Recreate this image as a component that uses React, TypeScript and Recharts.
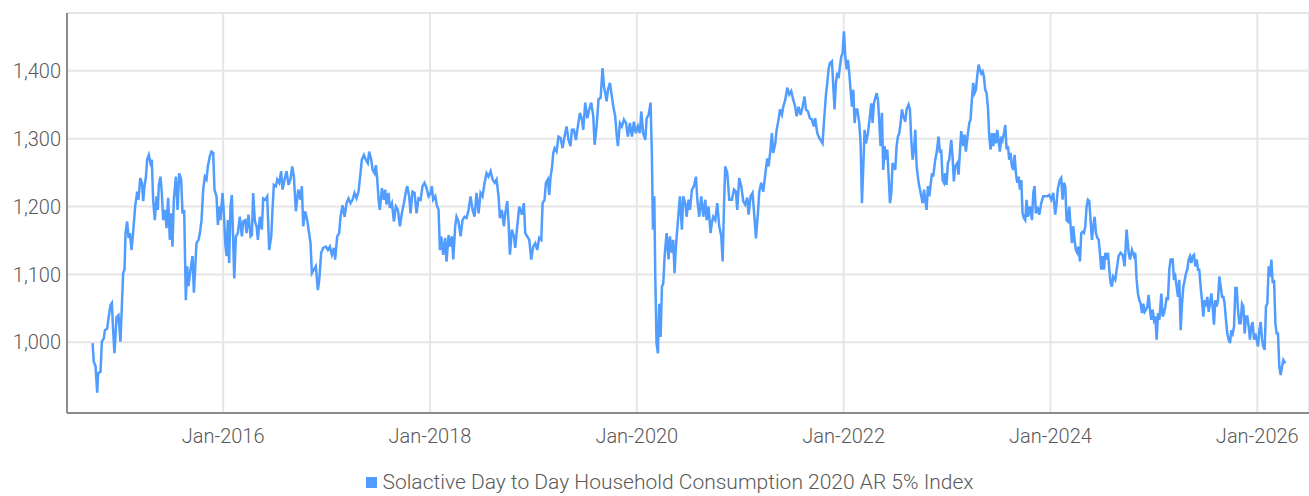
import React from "react";
import {
  LineChart,
  Line,
  XAxis,
  YAxis,
  CartesianGrid,
  Legend
} from "recharts";

const dates2014 = [2014.737, 2014.749, 2014.766, 2014.782, 2014.791, 2014.814, 2014.827, 2014.846, 2014.856, 2014.878, 2014.891, 2014.911, 2014.924, 2014.936, 2014.949, 2014.969, 2014.988, 2015.007, 2015.02, 2015.033, 2015.046, 2015.056, 2015.072, 2015.085, 2015.098, 2015.114, 2015.13, 2015.149, 2015.169, 2015.181, 2015.198, 2015.214, 2015.227, 2015.239, 2015.252, 2015.265, 2015.281, 2015.297, 2015.31, 2015.323, 2015.339, 2015.356, 2015.368, 2015.378, 2015.394, 2015.407, 2015.42, 2015.439, 2015.452, 2015.468, 2015.484, 2015.497, 2015.51, 2015.523, 2015.543, 2015.559, 2015.575, 2015.594, 2015.607, 2015.623, 2015.639, 2015.652, 2015.665, 2015.684, 2015.704, 2015.717, 2015.729, 2015.742, 2015.762, 2015.775, 2015.791, 2015.807, 2015.823, 2015.839, 2015.852, 2015.871, 2015.887, 2015.904, 2015.916, 2015.936, 2015.949, 2015.962, 2015.974, 2015.994];
const index2014 = [999, 971, 965, 926, 954, 957, 1001, 1006, 1018, 1020, 1035, 1055, 1058, 1018, 984, 1037, 1040, 1001, 1052, 1102, 1107, 1161, 1178, 1154, 1161, 1136, 1163, 1200, 1222, 1210, 1242, 1235, 1208, 1230, 1242, 1269, 1276, 1264, 1269, 1210, 1180, 1215, 1195, 1232, 1244, 1220, 1180, 1195, 1168, 1213, 1151, 1190, 1141, 1210, 1244, 1195, 1249, 1240, 1190, 1195, 1062, 1112, 1083, 1107, 1127, 1073, 1107, 1146, 1151, 1161, 1180, 1225, 1244, 1240, 1259, 1274, 1281, 1279, 1225, 1215, 1173, 1200, 1180, 1220];

const dates2016 = [2016.007, 2016.02, 2016.033, 2016.045, 2016.058, 2016.071, 2016.084, 2016.097, 2016.107, 2016.123, 2016.142, 2016.161, 2016.181, 2016.194, 2016.213, 2016.226, 2016.245, 2016.265, 2016.278, 2016.29, 2016.307, 2016.323, 2016.336, 2016.355, 2016.374, 2016.387, 2016.407, 2016.426, 2016.445, 2016.465, 2016.477, 2016.49, 2016.51, 2016.523, 2016.542, 2016.561, 2016.574, 2016.594, 2016.613, 2016.632, 2016.651, 2016.668, 2016.684, 2016.703, 2016.726, 2016.748, 2016.761, 2016.774, 2016.793, 2016.813, 2016.826, 2016.845, 2016.858, 2016.877, 2016.896, 2016.916, 2016.929, 2016.948, 2016.967, 2016.993];
const index2016 = [1190, 1146, 1127, 1180, 1117, 1200, 1217, 1151, 1094, 1156, 1161, 1185, 1156, 1178, 1180, 1161, 1188, 1156, 1158, 1220, 1178, 1171, 1151, 1185, 1166, 1212, 1210, 1215, 1136, 1156, 1195, 1232, 1230, 1240, 1235, 1252, 1225, 1240, 1252, 1232, 1240, 1259, 1244, 1193, 1225, 1210, 1230, 1171, 1193, 1180, 1166, 1146, 1102, 1107, 1112, 1077, 1092, 1132, 1139, 1141];

const dates2017 = [2017.013, 2017.032, 2017.051, 2017.071, 2017.083, 2017.103, 2017.122, 2017.135, 2017.154, 2017.174, 2017.193, 2017.212, 2017.232, 2017.251, 2017.27, 2017.29, 2017.309, 2017.328, 2017.341, 2017.361, 2017.38, 2017.399, 2017.412, 2017.432, 2017.445, 2017.464, 2017.477, 2017.49, 2017.503, 2017.515, 2017.535, 2017.554, 2017.567, 2017.58, 2017.599, 2017.612, 2017.632, 2017.651, 2017.67, 2017.69, 2017.709, 2017.728, 2017.748, 2017.767, 2017.78, 2017.799, 2017.812, 2017.831, 2017.851, 2017.87, 2017.889, 2017.909, 2017.928, 2017.947, 2017.967, 2017.986];
const index2017 = [1136, 1141, 1129, 1139, 1122, 1156, 1161, 1185, 1202, 1185, 1205, 1212, 1205, 1210, 1220, 1212, 1222, 1249, 1269, 1276, 1269, 1264, 1281, 1269, 1254, 1249, 1261, 1240, 1210, 1195, 1227, 1210, 1225, 1203, 1220, 1198, 1205, 1178, 1200, 1195, 1171, 1190, 1205, 1222, 1230, 1215, 1190, 1222, 1220, 1190, 1212, 1210, 1230, 1235, 1227, 1215];

const dates2018 = [2018.006, 2018.018, 2018.031, 2018.051, 2018.064, 2018.083, 2018.096, 2018.109, 2018.128, 2018.147, 2018.16, 2018.18, 2018.192, 2018.212, 2018.225, 2018.244, 2018.257, 2018.276, 2018.296, 2018.315, 2018.334, 2018.354, 2018.373, 2018.392, 2018.412, 2018.431, 2018.45, 2018.47, 2018.489, 2018.508, 2018.528, 2018.547, 2018.566, 2018.586, 2018.605, 2018.625, 2018.644, 2018.663, 2018.676, 2018.695, 2018.715, 2018.728, 2018.747, 2018.76, 2018.773, 2018.792, 2018.812, 2018.824, 2018.844, 2018.863, 2018.889, 2018.908, 2018.921, 2018.94, 2018.96, 2018.979, 2018.998];
const index2018 = [1220, 1230, 1210, 1215, 1203, 1195, 1136, 1156, 1129, 1154, 1119, 1158, 1141, 1156, 1122, 1171, 1185, 1178, 1156, 1180, 1185, 1183, 1195, 1215, 1195, 1185, 1220, 1190, 1220, 1215, 1235, 1249, 1244, 1252, 1240, 1235, 1240, 1215, 1183, 1195, 1171, 1190, 1208, 1176, 1129, 1166, 1156, 1139, 1171, 1200, 1188, 1205, 1161, 1156, 1151, 1122, 1141];

const dates2019 = [2019.018, 2019.037, 2019.056, 2019.076, 2019.089, 2019.108, 2019.121, 2019.14, 2019.153, 2019.166, 2019.179, 2019.192, 2019.205, 2019.224, 2019.243, 2019.263, 2019.282, 2019.301, 2019.321, 2019.34, 2019.359, 2019.372, 2019.392, 2019.411, 2019.43, 2019.45, 2019.469, 2019.482, 2019.501, 2019.521, 2019.54, 2019.559, 2019.579, 2019.592, 2019.611, 2019.63, 2019.65, 2019.669, 2019.682, 2019.695, 2019.708, 2019.721, 2019.74, 2019.759, 2019.772, 2019.791, 2019.804, 2019.817, 2019.837, 2019.856, 2019.875, 2019.895, 2019.914, 2019.933, 2019.953, 2019.972, 2019.991];
const index2019 = [1146, 1136, 1154, 1151, 1205, 1210, 1235, 1240, 1217, 1244, 1256, 1279, 1286, 1281, 1303, 1301, 1286, 1303, 1318, 1298, 1289, 1313, 1313, 1298, 1318, 1338, 1328, 1313, 1353, 1330, 1343, 1353, 1333, 1291, 1318, 1358, 1360, 1404, 1377, 1367, 1355, 1372, 1382, 1362, 1348, 1333, 1308, 1289, 1323, 1318, 1328, 1323, 1303, 1323, 1303, 1325, 1308];

const dates2020 = [2020.011, 2020.03, 2020.043, 2020.062, 2020.082, 2020.095, 2020.114, 2020.133, 2020.146, 2020.156, 2020.169, 2020.178, 2020.191, 2020.204, 2020.217, 2020.23, 2020.243, 2020.256, 2020.269, 2020.288, 2020.307, 2020.32, 2020.34, 2020.352, 2020.365, 2020.378, 2020.398, 2020.417, 2020.436, 2020.449, 2020.469, 2020.481, 2020.501, 2020.514, 2020.533, 2020.552, 2020.572, 2020.585, 2020.604, 2020.623, 2020.643, 2020.662, 2020.675, 2020.694, 2020.713, 2020.726, 2020.739, 2020.759, 2020.778, 2020.797, 2020.817, 2020.83, 2020.843, 2020.855, 2020.875, 2020.894, 2020.92, 2020.939, 2020.958, 2020.971, 2020.99];
const index2020 = [1318, 1308, 1340, 1308, 1298, 1330, 1335, 1353, 1274, 1166, 1215, 1102, 998, 984, 1057, 1008, 1082, 1087, 1127, 1161, 1122, 1156, 1132, 1151, 1102, 1141, 1180, 1215, 1166, 1215, 1205, 1185, 1210, 1195, 1225, 1230, 1244, 1210, 1185, 1215, 1185, 1210, 1180, 1200, 1161, 1176, 1185, 1180, 1205, 1171, 1156, 1119, 1200, 1259, 1249, 1210, 1210, 1225, 1222, 1195, 1242];

const dates2021 = [2021.01, 2021.029, 2021.048, 2021.068, 2021.081, 2021.1, 2021.119, 2021.132, 2021.152, 2021.171, 2021.184, 2021.203, 2021.223, 2021.242, 2021.261, 2021.274, 2021.293, 2021.306, 2021.319, 2021.339, 2021.352, 2021.371, 2021.384, 2021.403, 2021.416, 2021.435, 2021.455, 2021.474, 2021.493, 2021.513, 2021.532, 2021.545, 2021.564, 2021.584, 2021.603, 2021.622, 2021.635, 2021.655, 2021.674, 2021.693, 2021.713, 2021.725, 2021.745, 2021.764, 2021.784, 2021.796, 2021.809, 2021.829, 2021.842, 2021.854, 2021.867, 2021.887, 2021.9, 2021.912, 2021.925, 2021.938, 2021.951, 2021.964, 2021.977, 2021.99];
const index2021 = [1230, 1208, 1203, 1213, 1188, 1215, 1220, 1195, 1153, 1190, 1222, 1235, 1222, 1247, 1271, 1259, 1284, 1308, 1279, 1293, 1313, 1328, 1343, 1335, 1347, 1357, 1375, 1365, 1370, 1357, 1347, 1333, 1347, 1335, 1347, 1362, 1343, 1340, 1330, 1328, 1318, 1330, 1308, 1301, 1296, 1293, 1323, 1365, 1382, 1402, 1411, 1414, 1377, 1343, 1382, 1397, 1389, 1406, 1421, 1426];

const dates2022 = [2022.003, 2022.016, 2022.029, 2022.041, 2022.054, 2022.067, 2022.08, 2022.093, 2022.106, 2022.119, 2022.132, 2022.151, 2022.164, 2022.177, 2022.19, 2022.203, 2022.216, 2022.235, 2022.254, 2022.267, 2022.28, 2022.293, 2022.306, 2022.319, 2022.332, 2022.345, 2022.357, 2022.37, 2022.383, 2022.396, 2022.409, 2022.422, 2022.435, 2022.448, 2022.461, 2022.473, 2022.486, 2022.499, 2022.512, 2022.525, 2022.538, 2022.551, 2022.564, 2022.577, 2022.596, 2022.609, 2022.628, 2022.641, 2022.654, 2022.667, 2022.68, 2022.693, 2022.706, 2022.725, 2022.738, 2022.751, 2022.764, 2022.777, 2022.789, 2022.802, 2022.815, 2022.828, 2022.854, 2022.866, 2022.886, 2022.899, 2022.918, 2022.931, 2022.944, 2022.957, 2022.97, 2022.982, 2022.995];
const index2022 = [1458, 1421, 1402, 1416, 1397, 1372, 1347, 1372, 1323, 1343, 1343, 1323, 1293, 1205, 1259, 1313, 1293, 1308, 1333, 1352, 1323, 1352, 1360, 1367, 1357, 1323, 1289, 1338, 1254, 1289, 1269, 1284, 1245, 1205, 1220, 1264, 1259, 1254, 1289, 1303, 1308, 1323, 1343, 1333, 1325, 1343, 1350, 1343, 1298, 1269, 1284, 1313, 1259, 1235, 1225, 1215, 1205, 1225, 1210, 1195, 1230, 1215, 1249, 1244, 1269, 1279, 1303, 1279, 1284, 1239, 1235, 1249, 1232];

const dates2023 = [2023.008, 2023.021, 2023.041, 2023.053, 2023.066, 2023.079, 2023.099, 2023.111, 2023.124, 2023.137, 2023.157, 2023.169, 2023.182, 2023.202, 2023.215, 2023.227, 2023.24, 2023.253, 2023.266, 2023.279, 2023.292, 2023.305, 2023.318, 2023.331, 2023.344, 2023.356, 2023.369, 2023.382, 2023.395, 2023.408, 2023.421, 2023.434, 2023.447, 2023.46, 2023.473, 2023.485, 2023.498, 2023.511, 2023.524, 2023.537, 2023.55, 2023.563, 2023.576, 2023.589, 2023.601, 2023.614, 2023.627, 2023.64, 2023.653, 2023.666, 2023.679, 2023.692, 2023.705, 2023.718, 2023.73, 2023.743, 2023.756, 2023.769, 2023.782, 2023.801, 2023.821, 2023.834, 2023.846, 2023.859, 2023.872, 2023.892, 2023.911, 2023.93, 2023.95, 2023.969, 2023.988];
const index2023 = [1264, 1269, 1298, 1274, 1237, 1259, 1264, 1247, 1279, 1311, 1289, 1306, 1281, 1308, 1323, 1328, 1357, 1382, 1367, 1372, 1392, 1409, 1401, 1396, 1399, 1392, 1372, 1367, 1347, 1303, 1284, 1308, 1289, 1308, 1293, 1313, 1298, 1281, 1303, 1298, 1308, 1320, 1284, 1289, 1269, 1279, 1259, 1254, 1276, 1249, 1235, 1244, 1225, 1239, 1190, 1183, 1180, 1210, 1185, 1200, 1180, 1220, 1230, 1190, 1200, 1188, 1205, 1215, 1215, 1215, 1217];

const dates2024 = [2024.008, 2024.027, 2024.046, 2024.059, 2024.072, 2024.091, 2024.104, 2024.117, 2024.13, 2024.143, 2024.156, 2024.169, 2024.182, 2024.195, 2024.208, 2024.22, 2024.233, 2024.246, 2024.259, 2024.272, 2024.285, 2024.298, 2024.311, 2024.324, 2024.337, 2024.349, 2024.362, 2024.375, 2024.388, 2024.401, 2024.414, 2024.427, 2024.44, 2024.453, 2024.466, 2024.478, 2024.491, 2024.504, 2024.517, 2024.53, 2024.543, 2024.556, 2024.569, 2024.582, 2024.594, 2024.607, 2024.627, 2024.64, 2024.659, 2024.678, 2024.698, 2024.717, 2024.736, 2024.756, 2024.769, 2024.788, 2024.808, 2024.82, 2024.833, 2024.846, 2024.859, 2024.872, 2024.885, 2024.898, 2024.911, 2024.924, 2024.937, 2024.949, 2024.962, 2024.975, 2024.988];
const index2024 = [1210, 1220, 1188, 1205, 1227, 1239, 1242, 1210, 1235, 1230, 1180, 1178, 1200, 1171, 1146, 1171, 1151, 1136, 1132, 1141, 1119, 1161, 1163, 1161, 1171, 1200, 1210, 1208, 1180, 1151, 1171, 1185, 1161, 1154, 1151, 1132, 1107, 1127, 1107, 1132, 1122, 1132, 1107, 1087, 1082, 1097, 1092, 1107, 1127, 1132, 1129, 1112, 1166, 1132, 1122, 1136, 1127, 1132, 1092, 1072, 1062, 1057, 1043, 1057, 1045, 1048, 1053, 1070, 1048, 1033, 1048];

const dates2025 = [2025.001, 2025.014, 2025.027, 2025.04, 2025.053, 2025.072, 2025.085, 2025.098, 2025.111, 2025.124, 2025.136, 2025.149, 2025.162, 2025.182, 2025.194, 2025.207, 2025.22, 2025.233, 2025.246, 2025.259, 2025.272, 2025.285, 2025.298, 2025.311, 2025.323, 2025.336, 2025.349, 2025.362, 2025.375, 2025.388, 2025.401, 2025.414, 2025.427, 2025.439, 2025.452, 2025.465, 2025.478, 2025.491, 2025.504, 2025.517, 2025.53, 2025.543, 2025.556, 2025.568, 2025.581, 2025.594, 2025.607, 2025.62, 2025.633, 2025.646, 2025.659, 2025.672, 2025.684, 2025.697, 2025.71, 2025.723, 2025.736, 2025.749, 2025.762, 2025.775, 2025.788, 2025.801, 2025.813, 2025.826, 2025.839, 2025.852, 2025.865, 2025.878, 2025.891, 2025.904, 2025.917, 2025.929, 2025.942, 2025.955, 2025.968, 2025.981, 2025.994, 2026.007, 2026.02, 2026.033, 2026.046, 2026.058, 2026.071, 2026.084, 2026.097, 2026.11, 2026.123, 2026.136, 2026.149, 2026.162, 2026.175, 2026.187, 2026.2, 2026.213, 2026.226, 2026.239, 2026.252, 2026.271];
const index2025 = [1033, 1038, 1004, 1043, 1033, 1072, 1038, 1043, 1053, 1067, 1062, 1107, 1122, 1122, 1092, 1097, 1082, 1067, 1092, 1018, 1057, 1082, 1092, 1102, 1107, 1122, 1127, 1117, 1127, 1129, 1112, 1122, 1107, 1107, 1082, 1062, 1038, 1062, 1057, 1067, 1045, 1057, 1072, 1053, 1026, 1062, 1053, 1062, 1097, 1082, 1067, 1067, 1057, 1033, 1013, 1004, 999, 1018, 1013, 1023, 1080, 1080, 1048, 1028, 1028, 1057, 1053, 1013, 1038, 1038, 1023, 1004, 1023, 1030, 1004, 1013, 1004, 994, 1018, 1030, 1004, 994, 989, 1053, 1057, 1112, 1097, 1122, 1087, 1092, 1028, 1013, 1013, 964, 952, 964, 974, 969];

const xTicks = [2016, 2018, 2020, 2022, 2024, 2026];
const yTicks = [1000, 1100, 1200, 1300, 1400];
const seriesName = "Solactive Day to Day Household Consumption 2020 AR 5% Index";

const allDates = [
  ...dates2014, ...dates2016, ...dates2017, ...dates2018, ...dates2019, ...dates2020,
  ...dates2021, ...dates2022, ...dates2023, ...dates2024, ...dates2025
];
const allValues = [
  ...index2014, ...index2016, ...index2017, ...index2018, ...index2019, ...index2020,
  ...index2021, ...index2022, ...index2023, ...index2024, ...index2025
];
const data = allDates.map((t, i) => ({ t, v: allValues[i] }));

const LINE = "#509CFF";
const FONT = "Roboto, 'Noto Sans', sans-serif";

const LegendContent = () => (
  <div
    style={{
      height: 36,
      boxSizing: "border-box",
      paddingTop: 8,
      paddingLeft: 31,
      display: "flex",
      justifyContent: "center",
      alignItems: "center",
      fontFamily: FONT,
      fontWeight: 300,
      fontSize: 21,
      color: "#595959"
    }}
  >
    <span style={{ width: 11, height: 11, background: LINE, marginRight: 5, display: "inline-block" }} />
    <span>{seriesName}</span>
  </div>
);

export default function App() {
  return (
    <div style={{ position: "absolute", left: 0, top: 0 }}>
      <LineChart
        width={1309}
        height={496}
        data={data}
        margin={{ top: 13, right: 0, left: 0, bottom: 0 }}
      >
        <CartesianGrid stroke="#e6e6e6" strokeWidth={2} />
        <XAxis
          dataKey="t"
          type="number"
          domain={[2014.49, 2026.5]}
          ticks={xTicks}
          tickFormatter={(t) => `Jan-${t}`}
          height={47}
          tickLine={false}
          tickSize={6}
          tickMargin={10}
          axisLine={{ stroke: "#8c8c8c", strokeWidth: 2 }}
          tick={{ fill: "#595959", fontSize: 20, fontFamily: FONT, fontWeight: 300 }}
        />
        <YAxis
          type="number"
          domain={[896, 1485]}
          ticks={yTicks}
          allowDataOverflow
          width={67}
          tickLine={false}
          tickSize={6}
          tickMargin={0}
          tickFormatter={(v) => v.toLocaleString("en-US")}
          axisLine={{ stroke: "#8c8c8c", strokeWidth: 2 }}
          tick={{ fill: "#595959", fontSize: 20, fontFamily: FONT, fontWeight: 300 }}
        />
        <Legend
          verticalAlign="bottom"
          wrapperStyle={{ height: 36 }}
          content={<LegendContent />}
        />
        <Line
          type="linear"
          dataKey="v"
          name={seriesName}
          stroke={LINE}
          strokeWidth={2.5}
          dot={false}
          isAnimationActive={false}
        />
      </LineChart>
    </div>
  );
}
